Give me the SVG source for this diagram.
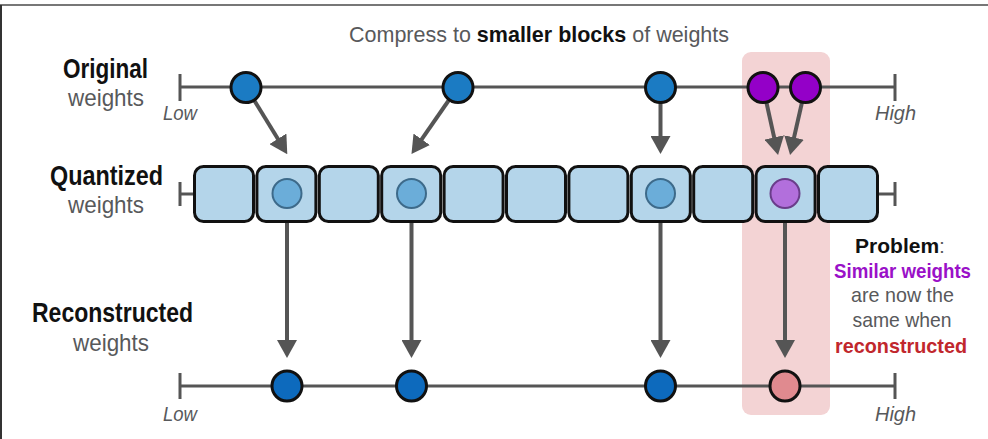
<svg xmlns="http://www.w3.org/2000/svg" width="988" height="439" viewBox="0 0 988 439">
<defs>
<style>
.t{font-family:"Liberation Sans Narrow","Liberation Sans",Arial,sans-serif;}
.lbl{font-size:28px;font-weight:bold;fill:#111;}
.sub{font-size:24px;fill:#58595b;}
.ax{font-size:21px;font-style:italic;fill:#58595b;}
.rt{font-size:21px;}
.gray{fill:#58595b;}
.blk-t{fill:#111;font-weight:bold;}
.purple{fill:#9a11c8;font-weight:bold;}
.red{fill:#c1272d;font-weight:bold;}
.ttl{font-size:21.5px;}
.axis{stroke:#555;stroke-width:3;fill:none;}
.conn{stroke:#555;stroke-width:4;fill:none;}
.blk{fill:#b4d5ea;stroke:#111;stroke-width:3;}
.inner{fill:#6badd9;stroke:#3d6a8a;stroke-width:2;}
.inner-p{fill:#b26fdc;stroke:#6a3d8a;stroke-width:2;}
.dot{stroke:#111;stroke-width:3;}
.blue{fill:#1b7bc3;}
.vio{fill:#9400c8;}
.dblue{fill:#0d6abd;}
.pink{fill:#e08a8f;}
</style>
<marker id="ah" viewBox="0 0 18 20" markerUnits="userSpaceOnUse" markerWidth="18" markerHeight="20" refX="2" refY="10" orient="auto">
<path d="M0,0 L18,10 L0,20 z" fill="#555"/>
</marker>
</defs>
<rect width="988" height="439" fill="#fff"/>
<line x1="0" y1="5" x2="988" y2="5" stroke="#777" stroke-width="2"/>
<line x1="1" y1="5" x2="1" y2="439" stroke="#333" stroke-width="2"/>

<g id="highlight">
<rect x="742" y="52" width="88" height="363" rx="9" fill="#f3d3d4"/>
</g>

<g id="title">
<text class="t ttl gray" x="349" y="42">Compress to <tspan class="blk-t">smaller blocks</tspan> of weights</text>
</g>

<g id="labels">
<text class="t lbl" x="63" y="78" textLength="85" lengthAdjust="spacingAndGlyphs">Original</text>
<text class="t sub" x="68" y="106" textLength="76" lengthAdjust="spacingAndGlyphs">weights</text>
<text class="t lbl" x="50" y="185" textLength="113" lengthAdjust="spacingAndGlyphs">Quantized</text>
<text class="t sub" x="68" y="213" textLength="76" lengthAdjust="spacingAndGlyphs">weights</text>
<text class="t lbl" x="32" y="322" textLength="161" lengthAdjust="spacingAndGlyphs">Reconstructed</text>
<text class="t sub" x="73" y="351" textLength="76" lengthAdjust="spacingAndGlyphs">weights</text>
<text class="t ax" x="163" y="120" textLength="34" lengthAdjust="spacingAndGlyphs">Low</text>
<text class="t ax" x="875" y="120" textLength="41" lengthAdjust="spacingAndGlyphs">High</text>
<text class="t ax" x="163" y="421" textLength="34" lengthAdjust="spacingAndGlyphs">Low</text>
<text class="t ax" x="875" y="421" textLength="41" lengthAdjust="spacingAndGlyphs">High</text>
</g>

<g id="axes">
<line class="axis" x1="180" y1="87" x2="895" y2="87"/>
<line class="axis" x1="180" y1="74" x2="180" y2="101"/>
<line class="axis" x1="895" y1="74" x2="895" y2="101"/>
<line class="axis" x1="180" y1="194" x2="194" y2="194"/>
<line class="axis" x1="180" y1="182" x2="180" y2="206"/>
<line class="axis" x1="878" y1="194" x2="895" y2="194"/>
<line class="axis" x1="895" y1="182" x2="895" y2="206"/>
<line class="axis" x1="180" y1="386" x2="895" y2="386"/>
<line class="axis" x1="180" y1="373" x2="180" y2="399"/>
<line class="axis" x1="895" y1="373" x2="895" y2="399"/>
</g>

<g id="connectors">
<line class="conn" x1="246" y1="87" x2="278.9" y2="140.5" marker-end="url(#ah)"/>
<line class="conn" x1="458" y1="87" x2="420.6" y2="140.9" marker-end="url(#ah)"/>
<line class="conn" x1="660.5" y1="87" x2="660.5" y2="138" marker-end="url(#ah)"/>
<line class="conn" x1="763" y1="87" x2="774.6" y2="139.4" marker-end="url(#ah)"/>
<line class="conn" x1="805.5" y1="87" x2="793.6" y2="139.4" marker-end="url(#ah)"/>
<line class="conn" x1="287" y1="194" x2="287" y2="342" marker-end="url(#ah)"/>
<line class="conn" x1="411.5" y1="194" x2="411.5" y2="342" marker-end="url(#ah)"/>
<line class="conn" x1="660.5" y1="194" x2="660.5" y2="342" marker-end="url(#ah)"/>
<line class="conn" x1="785" y1="194" x2="785" y2="342" marker-end="url(#ah)"/>
</g>

<g id="original-weights">
<circle class="dot blue" cx="246" cy="87.5" r="15"/>
<circle class="dot blue" cx="458" cy="87.5" r="15"/>
<circle class="dot blue" cx="660.5" cy="87.5" r="15"/>
<circle class="dot vio" cx="763" cy="87.5" r="15"/>
<circle class="dot vio" cx="805.5" cy="87.5" r="15"/>
</g>

<g id="quantized-blocks">
<rect class="blk" x="194.5" y="166.5" width="59" height="55" rx="9"/>
<rect class="blk" x="256.9" y="166.5" width="59" height="55" rx="9"/>
<rect class="blk" x="319.3" y="166.5" width="59" height="55" rx="9"/>
<rect class="blk" x="381.7" y="166.5" width="59" height="55" rx="9"/>
<rect class="blk" x="444.1" y="166.5" width="59" height="55" rx="9"/>
<rect class="blk" x="506.5" y="166.5" width="59" height="55" rx="9"/>
<rect class="blk" x="568.9" y="166.5" width="59" height="55" rx="9"/>
<rect class="blk" x="631.3" y="166.5" width="59" height="55" rx="9"/>
<rect class="blk" x="693.7" y="166.5" width="59" height="55" rx="9"/>
<rect class="blk" x="756.1" y="166.5" width="59" height="55" rx="9"/>
<rect class="blk" x="818.5" y="166.5" width="59" height="55" rx="9"/>
<circle class="inner" cx="287" cy="193.5" r="14.5"/>
<circle class="inner" cx="411.5" cy="193.5" r="14.5"/>
<circle class="inner" cx="660.5" cy="193.5" r="14.5"/>
<circle class="inner-p" cx="785" cy="193.5" r="14.5"/>
</g>

<g id="reconstructed-weights">
<circle class="dot dblue" cx="287" cy="386" r="15"/>
<circle class="dot dblue" cx="411.5" cy="386" r="15"/>
<circle class="dot dblue" cx="660.5" cy="386" r="15"/>
<circle class="dot pink" cx="785" cy="386" r="15"/>
</g>

<g id="problem-note">
<text class="t rt gray" x="900" y="253" text-anchor="middle"><tspan class="blk-t">Problem</tspan>:</text>
<text class="t rt purple" x="902.5" y="278" text-anchor="middle" textLength="137" lengthAdjust="spacingAndGlyphs">Similar weights</text>
<text class="t rt gray" x="902.5" y="302" text-anchor="middle" textLength="103" lengthAdjust="spacingAndGlyphs">are now the</text>
<text class="t rt gray" x="902" y="327" text-anchor="middle" textLength="99" lengthAdjust="spacingAndGlyphs">same when</text>
<text class="t rt red" x="901" y="353" text-anchor="middle" textLength="132" lengthAdjust="spacingAndGlyphs">reconstructed</text>
</g>
</svg>
